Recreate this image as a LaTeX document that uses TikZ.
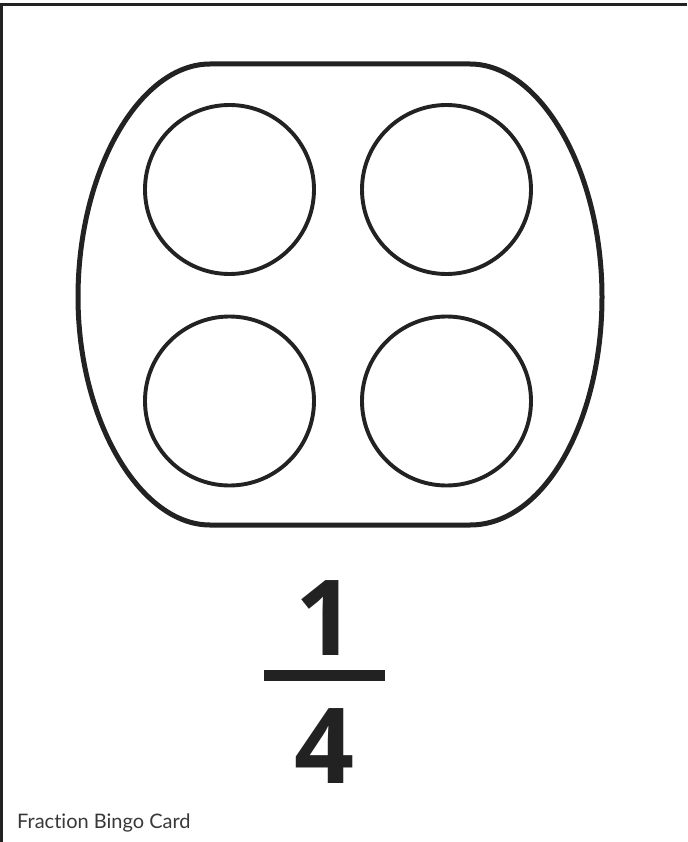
\documentclass[tikz,border=0pt]{standalone}
\usepackage{fontspec}
\setmainfont{Open Sans}
\newfontfamily\capfont[Ligatures=NoCommon]{Lato}
\definecolor{ink}{HTML}{222222}
\begin{document}
\begin{tikzpicture}[x=1pt,y=-1pt,
  frame/.style={draw=ink,line width=2.8pt},
  tray/.style={draw=ink,line width=5pt},
  cup/.style={draw=ink,line width=3.9pt},
  digit/.style={text=ink,inner sep=0pt,anchor=base,font=\bfseries\fontsize{105}{110}\selectfont}]
\useasboundingbox (0,0) rectangle (687,842);
% frame
\coordinate (fl1) at (1.3,3);
\coordinate (fl2) at (1.3,842);
\coordinate (ft1) at (0,4.5);
\coordinate (ft2) at (687,4.5);
\draw[frame] (ft1) -- (ft2);
\draw[frame] (fl1) -- (fl2);
% tray
\draw[tray] (210,64) -- (470,64)
  .. controls (540,64) and (602,170) .. (602,297)
  .. controls (602,420) and (545,525) .. (470,525)
  -- (210,525)
  .. controls (140,525) and (78,420) .. (78,297)
  .. controls (78,170) and (140,64) .. (210,64) -- cycle;
% cups
\node[cup,circle,minimum size=169pt,inner sep=0pt] (c1) at (229.5,189.5) {};
\node[cup,circle,minimum size=169pt,inner sep=0pt] (c2) at (446.5,189.5) {};
\node[cup,circle,minimum size=169pt,inner sep=0pt] (c3) at (229.5,401) {};
\node[cup,circle,minimum size=169pt,inner sep=0pt] (c4) at (446.5,401) {};
% fraction
\node[digit] (num) at (325,655) {1};
\coordinate (b1) at (264,675.5);
\coordinate (b2) at (385,675.5);
\draw[ink,line width=11pt] (b1) -- (b2);
\node[digit] (den) at (324,783) {4};
% caption
\node[anchor=base west,inner sep=0pt,text=ink!90,font=\capfont\fontsize{20}{22}\selectfont] (cap) at (17,828) {Fraction Bingo Card};
\end{tikzpicture}
\end{document}
